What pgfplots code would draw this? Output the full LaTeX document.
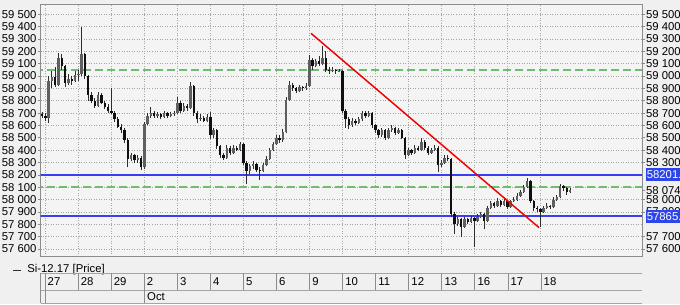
\documentclass[border=0pt]{standalone}
\usepackage{pgfplots}
\usepackage{pgfplotstable}
\pgfplotsset{compat=1.18}
\usepackage{fontspec}
\setmainfont{Liberation Sans}
\definecolor{pagebg}{RGB}{240,240,240}
\definecolor{plotbg}{RGB}{244,244,244}
\definecolor{framec}{RGB}{140,140,140}
\definecolor{gridc}{RGB}{165,165,165}
\definecolor{lvlblue}{RGB}{60,60,245}
\definecolor{boxblue}{RGB}{45,70,235}
\definecolor{lvlgreen}{RGB}{110,190,110}
\definecolor{trendred}{RGB}{240,0,0}
\definecolor{upc}{RGB}{95,95,95}
\definecolor{dnc}{RGB}{15,15,15}
\definecolor{wickc}{RGB}{45,45,45}
\definecolor{tablec}{RGB}{165,165,165}
\pgfplotstableread{
k o h l c
0 58690 58710 58660 58680
1 58680 58700 58640 58660
2 58660 59000 58620 58960
3 58960 59040 58900 58990
4 58990 59070 58910 58930
5 58930 59190 58920 59150
6 59150 59180 59050 59080
7 59080 59090 58910 58940
8 58940 59020 58930 58980
9 58980 59000 58930 58960
10 58960 59040 58950 59010
11 59010 59050 58960 59020
12 59020 59400 59000 59180
13 59180 59190 58980 59000
14 59000 59010 58800 58850
15 58850 58870 58780 58800
16 58800 58820 58740 58760
17 58760 58870 58750 58850
18 58850 58860 58770 58780
19 58780 58800 58730 58750
20 58750 58770 58700 58720
21 58720 58900 58690 58700
22 58700 58720 58630 58650
23 58650 58670 58580 58590
24 58590 58610 58540 58560
25 58560 58580 58460 58480
26 58480 58500 58260 58330
27 58330 58380 58310 58360
28 58360 58370 58300 58320
29 58320 58360 58300 58340
30 58340 58350 58240 58260
31 58260 58630 58250 58610
32 58610 58700 58600 58680
33 58680 58750 58660 58700
34 58700 58720 58660 58680
35 58680 58710 58660 58690
36 58690 58700 58650 58670
37 58670 58720 58660 58700
38 58700 58710 58660 58680
39 58680 58710 58670 58690
40 58690 58720 58680 58700
41 58700 58830 58690 58780
42 58780 58800 58700 58720
43 58720 58780 58710 58760
44 58760 58770 58720 58740
45 58740 58950 58730 58920
46 58920 58930 58680 58700
47 58700 58720 58620 58650
48 58650 58690 58640 58660
49 58660 58680 58630 58640
50 58640 58690 58630 58670
51 58670 58710 58490 58520
52 58520 58580 58500 58560
53 58560 58570 58410 58430
54 58430 58440 58340 58360
55 58360 58380 58320 58340
56 58340 58440 58330 58420
57 58420 58430 58360 58380
58 58380 58440 58370 58420
59 58420 58430 58390 58400
60 58400 58470 58390 58450
61 58450 58460 58280 58300
62 58300 58310 58130 58230
63 58230 58290 58210 58270
64 58270 58310 58250 58290
65 58290 58300 58220 58240
66 58240 58260 58160 58230
67 58230 58300 58220 58280
68 58280 58350 58270 58330
69 58330 58420 58320 58400
70 58400 58470 58390 58450
71 58450 58520 58440 58500
72 58500 58520 58460 58480
73 58480 58570 58470 58550
74 58550 58830 58540 58810
75 58810 58960 58800 58930
76 58930 58940 58880 58900
77 58900 58910 58860 58880
78 58880 58930 58870 58910
79 58910 58920 58880 58900
80 58900 58940 58890 58920
81 58920 59170 58910 59130
82 59130 59150 59050 59080
83 59080 59140 59070 59120
84 59120 59160 59080 59100
85 59100 59240 59090 59150
86 59150 59200 59030 59050
87 59050 59070 59020 59040
88 59040 59070 59030 59050
89 59050 59060 59020 59040
90 59040 59060 59030 59045
91 59045 59050 58700 58720
92 58720 58730 58580 58650
93 58650 58670 58570 58600
94 58600 58660 58590 58640
95 58640 58650 58600 58620
96 58620 58670 58610 58650
97 58650 58720 58640 58700
98 58700 58720 58660 58680
99 58680 58720 58670 58700
100 58700 58710 58580 58600
101 58600 58610 58540 58560
102 58560 58570 58500 58520
103 58520 58580 58510 58560
104 58560 58570 58480 58500
105 58500 58580 58490 58560
106 58560 58600 58550 58580
107 58580 58590 58520 58540
108 58540 58580 58530 58560
109 58560 58570 58490 58500
110 58500 58510 58330 58360
111 58360 58420 58350 58400
112 58400 58410 58360 58380
113 58380 58440 58370 58420
114 58420 58430 58390 58400
115 58400 58500 58390 58470
116 58470 58480 58400 58420
117 58420 58430 58360 58380
118 58380 58420 58370 58400
119 58400 58440 58390 58420
120 58420 58430 58220 58280
121 58280 58320 58260 58300
122 58300 58360 58290 58340
123 58340 58360 58310 58330
124 58330 58340 57860 57880
125 57880 57900 57720 57800
126 57800 57860 57790 57840
127 57840 57850 57700 57780
128 57780 57860 57770 57840
129 57840 57850 57800 57820
130 57820 57870 57810 57850
131 57850 57860 57615 57830
132 57830 57880 57820 57860
133 57860 57900 57850 57880
134 57880 57890 57760 57830
135 57830 57950 57820 57930
136 57930 57990 57920 57970
137 57970 57980 57930 57950
138 57950 58010 57940 57990
139 57990 58000 57940 57960
140 57960 58010 57950 57990
141 57990 58000 57920 57940
142 57940 58000 57930 57990
143 57990 58020 57980 58000
144 58000 58050 57990 58030
145 58030 58080 58020 58060
146 58060 58120 58050 58100
147 58100 58175 58090 58150
148 58150 58160 57970 57990
149 57990 58000 57910 57930
150 57930 57950 57900 57920
151 57920 57930 57780 57900
152 57900 57950 57890 57930
153 57930 57970 57920 57950
154 57950 57960 57920 57940
155 57940 58020 57930 58000
156 58000 58040 57990 58020
157 58020 58130 58010 58110
158 58110 58120 58070 58090
159 58090 58100 58040 58060
160 58060 58090 58050 58074
}\data
\begin{document}
\begin{tikzpicture}[x=1pt,y=1pt,font=\fontsize{8.5}{10}\selectfont]
\fill[pagebg] (0,0) rectangle (510,228);
\begin{axis}[
  at={(30.4pt,35.5pt)}, anchor=south west, scale only axis,
  width=451.1pt, height=189pt,
  xmin=-0.45, xmax=181.8, ymin=57538, ymax=59578,
  axis background/.style={fill=plotbg},
  axis line style={framec, line width=0.6pt},
  xtick={0.91,10.91,20.91,30.91,40.91,50.91,60.91,70.91,80.91,90.91,100.91,110.91,120.91,130.91,140.91,150.91},
  xticklabels={}, xtick style={draw=none},
  ytick={57600,57700,57800,57900,58000,58100,58200,58300,58400,58500,58600,58700,58800,58900,59000,59100,59200,59300,59400,59500},
  yticklabels={57 600,57 700,57 800,57 900,58 000,58 100,58 200,58 300,58 400,58 500,58 600,58 700,58 800,58 900,59 000,59 100,59 200,59 300,59 400,59 500},
  ytick pos=left, tick align=outside, major tick length=2pt,
  ytick style={framec, line width=0.5pt},
  yticklabel style={font=\fontsize{8.5}{10}\selectfont, inner sep=0.8pt},
  grid=major, major grid style={gridc, line width=0.45pt, dash pattern=on 0.6pt off 1.3pt},
]
% level lines
\addplot[lvlgreen, line width=1.1pt, dash pattern=on 6pt off 3pt] coordinates {(-2,59048) (190,59048)};
\addplot[lvlgreen, line width=1.1pt, dash pattern=on 6pt off 3pt] coordinates {(-2,58102) (190,58102)};
\addplot[lvlblue, line width=1.4pt] coordinates {(-2,58201) (190,58201)};
\addplot[lvlblue, line width=1.4pt] coordinates {(-2,57865) (190,57865)};
% wicks
\addplot[draw=none, mark=none, error bars/.cd, y dir=plus, y explicit, error mark=none,
  error bar style={line width=0.75pt, color=wickc}]
  table[x=k, y=l, y error plus expr={\thisrow{h}-\thisrow{l}}] {\data};
% up bodies
\addplot[draw=none, mark=none, y filter/.expression={\thisrow{c}>=\thisrow{o} ? y : nan},
  error bars/.cd, y dir=plus, y explicit, error mark=none,
  error bar style={line width=1.8pt, color=upc}]
  table[x=k, y=o, y error plus expr={\thisrow{c}-\thisrow{o}}] {\data};
% down bodies
\addplot[draw=none, mark=none, y filter/.expression={\thisrow{c}<\thisrow{o} ? y : nan},
  error bars/.cd, y dir=plus, y explicit, error mark=none,
  error bar style={line width=1.8pt, color=dnc}]
  table[x=k, y=c, y error plus expr={\thisrow{o}-\thisrow{c}}] {\data};
% trend line
\addplot[trendred, line width=1.1pt] coordinates {(81.5,59346) (150.6,57773)};
\end{axis}
\begin{axis}[
  at={(30.4pt,35.5pt)}, anchor=south west, scale only axis,
  width=451.1pt, height=189pt,
  xmin=-0.45, xmax=181.8, ymin=57538, ymax=59578,
  axis x line=none, axis y line*=right,
  axis line style={framec, line width=0.6pt},
  ytick={57600,57700,57900,58000,58074,58300,58400,58500,58600,58700,58800,58900,59000,59100,59200,59300,59400,59500},
  yticklabels={57 600,57 700,57 900,58 000,58 074,58 300,58 400,58 500,58 600,58 700,58 800,58 900,59 000,59 100,59 200,59 300,59 400,59 500},
  tick align=outside, major tick length=2pt,
  ytick style={framec, line width=0.5pt},
  yticklabel style={font=\fontsize{8.5}{10}\selectfont, inner sep=0.8pt},
]
\coordinate (b1) at (axis cs:181.8,58201);
\coordinate (b2) at (axis cs:181.8,57865);
\end{axis}
\node[anchor=west, fill=boxblue, text=white, inner xsep=0.8pt, inner ysep=0pt, minimum height=9.6pt, xshift=2.6pt] at (b1) {58201.5};
\node[anchor=west, fill=boxblue, text=white, inner xsep=0.8pt, inner ysep=0pt, minimum height=9.6pt, xshift=2.6pt] at (b2) {57865.0};
% legend
\draw[wickc, line width=0.6pt] (9.75,25.5) -- (15.75,25.5);
\node[anchor=west, inner sep=0pt] at (20.25,25.7) {Si-12.17 [Price]};
% date table
\draw[tablec, line width=0.6pt] (30.5,23) -- (481.5,23);
\draw[tablec, line width=0.6pt] (30.5,10.5) -- (481.5,10.5);
\draw[tablec, line width=0.6pt] (30.5,0.75) -- (481.5,0.75);
\draw[framec, line width=0.6pt] (30.5,0.75) -- (30.5,23);
\draw[framec, line width=0.6pt] (108,0.75) -- (108,10.5);
\draw[framec, line width=0.6pt] (33.75,0.75) -- (33.75,10.5);
\foreach \d/\lab in {0/27,1/28,2/29,3/2,4/3,5/4,6/5,7/6,8/9,9/10,10/11,11/12,12/13,13/16,14/17,15/18}{
  \draw[framec, line width=0.6pt] (33.75+24.8*\d,10.5) -- (33.75+24.8*\d,23);
  \node[anchor=west, inner sep=0pt] at (35.6+24.8*\d,16.6) {\lab};
}
\node[anchor=west, inner sep=0pt] at (110.2,5.6) {Oct};
\pgfresetboundingbox
\path[use as bounding box] (0,0) rectangle (510,228);
\end{tikzpicture}
\end{document}
